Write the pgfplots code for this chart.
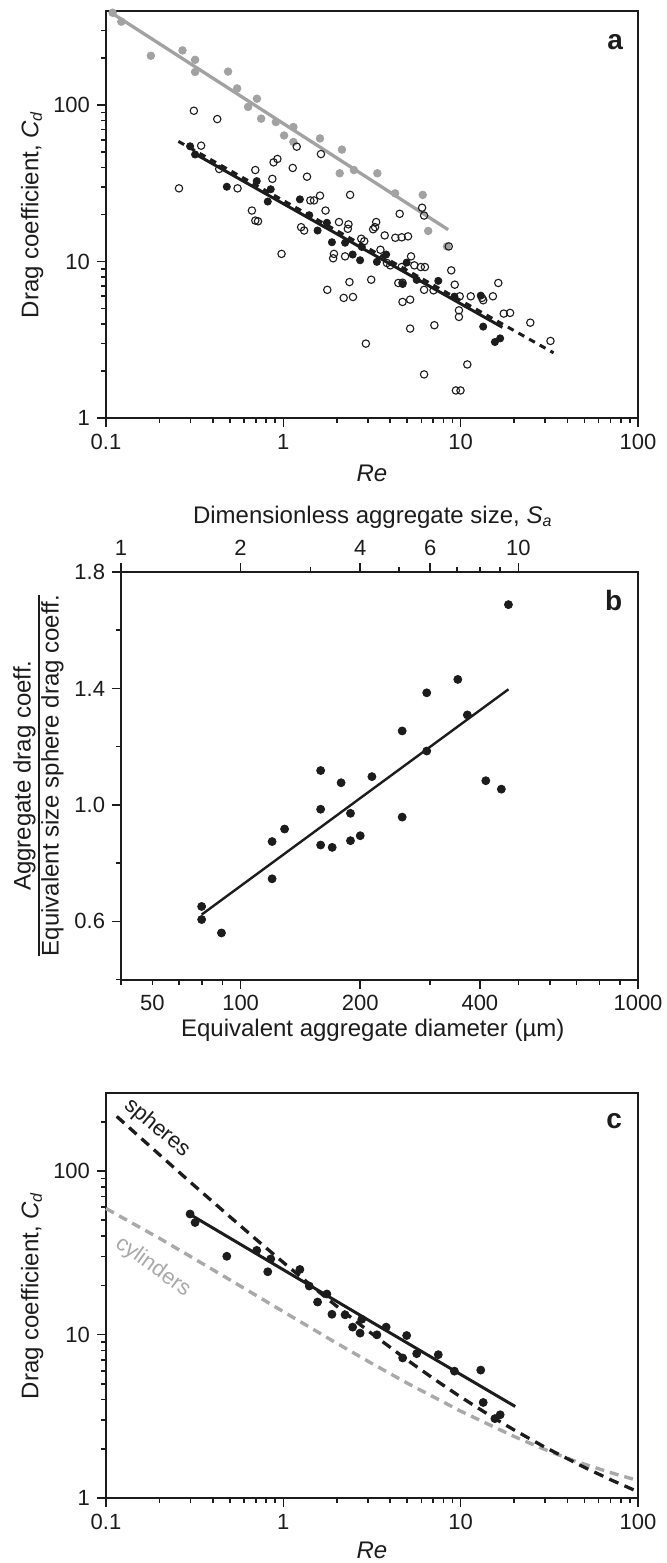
\documentclass[border=0pt]{standalone}
\usepackage{fontspec}
\setmainfont{Liberation Sans}
\usepackage{pgfplots}
\pgfplotsset{compat=1.18}
\setlength{\arrayrulewidth}{1pt}
\definecolor{dk}{HTML}{1C1C1C}
\definecolor{gr}{HTML}{A2A2A2}
\definecolor{gl}{HTML}{A9A9A9}
\newcommand{\fs}{\fontsize{11}{12.5}\selectfont}
\newcommand{\fl}{\fontsize{12}{13}\selectfont}
\pgfplotsset{
  myax/.style={
    scale only axis, anchor=south west,
    axis line style={line width=1pt, draw=dk},
    tick style={line width=0.8pt, draw=dk},
    major tick length=4.5pt, minor tick length=2.5pt,
    tick align=outside,
    tick label style={font=\fs, text=dk},
    label style={font=\fl, text=dk},
    /pgf/number format/assume math mode=true,
    clip=false,
  },
}
\pgfplotstableread{
Re Cd
0.298 54.6
0.318 48.4
0.480 30.1
0.708 32.7
0.817 24.2
0.849 29.0
1.24 25.0
1.40 19.8
1.56 15.8
1.76 17.7
1.88 13.3
2.23 13.2
2.46 11.1
2.71 10.2
2.77 12.4
3.37 9.96
3.80 11.1
4.71 7.19
4.96 9.86
5.65 7.64
7.48 7.53
9.22 5.97
12.98 6.06
13.4 3.84
15.6 3.06
16.7 3.23
}\filled
\begin{document}
\begin{tikzpicture}
\path[use as bounding box] (0pt,0pt) rectangle (333pt,-781.5pt);
% ---------------- panel a
\begin{axis}[myax, at={(53pt,-209pt)}, width=266pt, height=203.5pt,
  xmode=log, ymode=log, xmin=0.1, xmax=100, ymin=1, ymax=400,
  xtick={0.1,1,10,100}, xticklabels={0.1,1,10,100},
  ytick={1,10,100}, yticklabels={1,10,100},
  minor xtick={0.2,0.3,0.4,0.5,0.6,0.7,0.8,0.9,2,3,4,5,6,7,8,9,20,30,40,50,60,70,80,90},
  minor ytick={2,3,4,5,6,7,8,9,20,30,40,50,60,70,80,90,200,300},
  xtick pos=bottom, ytick pos=left,
  xlabel={\textit{Re}},
  ylabel={Drag coefficient, \textit{C}\textsubscript{\textit{d}}},
  xlabel style={at={(axis description cs:0.5,-0.135)}, anchor=center},
  ylabel style={at={(axis description cs:-0.139,0.5)}, anchor=center},
]
\addplot[only marks, mark=*, mark size=1.9pt, color=gr] table {
0.109 390
0.122 342
0.179 207
0.270 224
0.318 195
0.318 163
0.488 164
0.549 128
0.710 110
0.633 97.5
0.750 82
0.908 78
1.14 72.5
1.01 64
1.14 58.2
1.61 61.3
2.14 52
2.08 36.7
2.50 38.5
3.39 36.7
4.27 27.3
6.11 26.7
6.56 15.7
8.37 12.5
};
\addplot[no marks, gr, line width=1.65pt] coordinates {(0.109,385) (8.5,16)};
\addplot[only marks, mark=o, mark size=1.85pt, dk, mark options={line width=0.55pt}] table {
0.313 92.1
0.424 81.5
0.344 55.1
0.258 29.4
0.435 39.1
0.552 29.4
0.695 38.5
0.881 43.1
0.926 45.3
0.867 33.8
1.13 39.7
1.19 54.3
1.36 34.9
1.63 48.7
1.61 26.4
1.42 24.6
1.49 24.6
1.73 21.2
2.38 26.7
0.665 21.2
0.695 18.3
0.72 18.1
1.26 16.6
1.31 15.8
0.977 11.2
2.06 17.9
2.33 17.3
2.31 16.2
3.34 17.9
3.29 16.6
3.21 16.1
3.73 14.7
4.28 14.2
4.65 14.3
5.05 14.5
4.53 20.2
5.25 10.8
3.53 11.9
1.93 11.2
1.91 10.5
2.23 10.8
2.75 14.0
2.86 13.5
4.01 9.46
3.84 9.79
4.65 9.23
5.96 9.23
6.29 9.23
5.48 9.46
8.85 8.79
9.26 7.12
11.4 6.0
15.2 6.0
16.3 7.3
13.2 5.86
13.4 5.66
9.78 4.88
9.78 4.43
1.77 6.6
2.36 7.4
3.13 7.66
2.19 5.86
2.47 5.94
4.45 7.3
4.70 7.33
4.70 5.52
5.19 5.71
6.22 6.6
7.03 6.55
17.5 4.65
19.0 4.7
24.7 4.07
5.19 3.73
7.11 3.92
8.57 12.5
6.06 22.1
6.22 19.7
2.92 2.99
6.22 1.90
9.40 1.50
9.98 1.50
10.9 2.20
32.1 3.11
9.88 6.0
};
\addplot[no marks, dk, line width=1.5pt, dash pattern=on 3.3pt off 2.8pt] coordinates {(0.256,58.7) (33.4,2.61)};
\addplot[no marks, dk, line width=1.5pt] coordinates {(0.318,48.8) (17.2,3.8)};
\addplot[only marks, mark=*, mark size=1.8pt, dk] table[x=Re,y=Cd] {\filled};
\node[anchor=east, font=\bfseries\fontsize{14}{16}\selectfont, text=dk] at (rel axis cs:0.985,0.924) {a};
\end{axis}
% ---------------- panel b (top axis)
\begin{axis}[myax, at={(60.5pt,-489.75pt)}, width=258.5pt, height=203.75pt,
  xmode=log, xmin=1, xmax=20, ymin=0, ymax=1,
  axis x line*=top, hide y axis,
  xtick={1,2,4,6,10}, xticklabels={1,2,4,6,10},
  minor xtick={3,5,7,8,9},
  xlabel={Dimensionless aggregate size, \textit{S}\textsubscript{\textit{a}}},
  xlabel style={at={(axis description cs:0.487,1.135)}, anchor=center},
]
\addplot[draw=none] coordinates {(1,0) (20,1)};
\end{axis}
% ---------------- panel b
\begin{axis}[myax, at={(60.5pt,-489.75pt)}, width=258.5pt, height=203.75pt,
  xmode=log, xmin=50, xmax=1000, ymin=0.4, ymax=1.8,
  xtick={100,200,400,1000}, xticklabels={100,200,400,1000},
  minor xtick={50,60,70,80,90,300,500,600,700,800,900},
  extra x ticks={60}, extra x tick labels={50},
  extra x tick style={major tick style={draw=none}},
  ytick={0.6,1.0,1.4,1.8}, yticklabels={0.6,1.0,1.4,1.8},
  minor ytick={0.4,0.8,1.2,1.6},
  xtick pos=bottom, ytick pos=left,
  xlabel={Equivalent aggregate diameter (µm)},
  ylabel={\begin{tabular}{@{}c@{}}Aggregate drag coeff.\\\hline Equivalent size sphere drag coeff.\end{tabular}},
  xlabel style={at={(axis description cs:0.487,-0.124)}, anchor=center},
  ylabel style={at={(axis description cs:-0.158,0.5)}, anchor=center},
]
\addplot[no marks, dk, line width=1.2pt] coordinates {(79.8,0.623) (472,1.397)};
\addplot[only marks, mark=*, mark size=2pt, dk] table {
472 1.688
352 1.431
294 1.385
372 1.309
255 1.254
294 1.185
159 1.118
214 1.097
179 1.076
414 1.083
453 1.054
159 0.985
189 0.971
255 0.958
129 0.917
120 0.874
200 0.894
189 0.877
159 0.862
170 0.854
120 0.746
79.8 0.651
79.8 0.606
89.5 0.560
};
\node[anchor=east, font=\bfseries\fontsize{14}{16}\selectfont, text=dk] at (rel axis cs:0.983,0.931) {b};
\end{axis}
% ---------------- panel c
\begin{axis}[myax, at={(53pt,-749pt)}, width=266pt, height=202.5pt,
  xmode=log, ymode=log, xmin=0.1, xmax=100, ymin=1, ymax=300,
  xtick={0.1,1,10,100}, xticklabels={0.1,1,10,100},
  ytick={1,10,100}, yticklabels={1,10,100},
  minor xtick={0.2,0.3,0.4,0.5,0.6,0.7,0.8,0.9,2,3,4,5,6,7,8,9,20,30,40,50,60,70,80,90},
  minor ytick={2,3,4,5,6,7,8,9,20,30,40,50,60,70,80,90,200},
  xtick pos=bottom, ytick pos=left,
  xlabel={\textit{Re}},
  ylabel={Drag coefficient, \textit{C}\textsubscript{\textit{d}}},
  xlabel style={at={(axis description cs:0.5,-0.128)}, anchor=center},
  ylabel style={at={(axis description cs:-0.139,0.5)}, anchor=center},
]
\addplot[no marks, gl, line width=1.7pt, dash pattern=on 4.5pt off 3pt] coordinates {
(0.1,59) (0.2,38.8) (0.316,29.0) (0.5,21.6) (1,13.8) (2,8.85) (3.16,6.65) (5,5.04) (10,3.4) (20,2.38) (31.6,1.93) (45,1.67) (70,1.43) (100,1.28)};
\addplot[no marks, dk, line width=1.65pt, dash pattern=on 5pt off 3.3pt] coordinates {
(0.115,215.8) (0.15,166.5) (0.2,126.0) (0.3,85.2) (0.5,52.5) (0.7,38.3) (1,27.6) (1.5,19.17) (2,14.9) (3,10.55) (5,6.98) (7,5.39) (10,4.15) (15,3.14) (20,2.61) (30,2.04) (50,1.538) (70,1.295) (100,1.092)};
\addplot[no marks, dk, line width=1.5pt] coordinates {(0.3,54) (1,24.9) (3,12.3) (10,5.7) (20.3,3.63)};
\addplot[only marks, mark=*, mark size=2pt, dk] table[x=Re,y=Cd] {\filled};
\node[anchor=east, font=\bfseries\fontsize{14}{16}\selectfont, text=dk] at (rel axis cs:0.983,0.931) {c};
\node[rotate=-40, font=\fs, text=dk] at (axis cs:0.194,183) {spheres};
\node[rotate=-36, font=\fs, text=gl] at (axis cs:0.184,25.9) {cylinders};
\end{axis}
\end{tikzpicture}
\end{document}
